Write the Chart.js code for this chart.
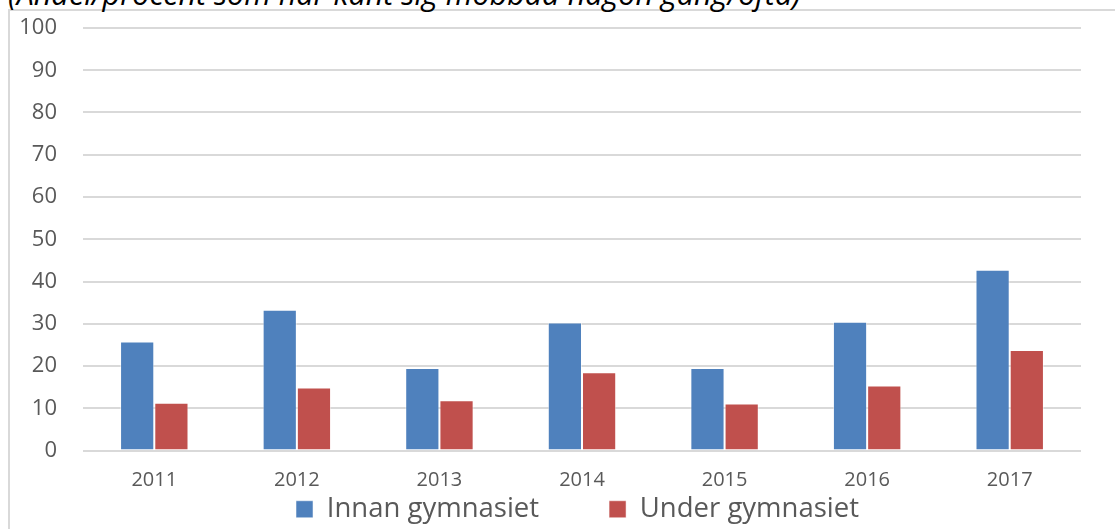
<!DOCTYPE html>
<html>
<head>
<meta charset="utf-8">
<script src="https://cdn.jsdelivr.net/npm/chart.js@4"></script>
<style>
  html, body { margin: 0; padding: 0; background: #fff; overflow: hidden; }
  #wrap { position: relative; width: 1115px; height: 529px; }
  #frame { position: absolute; left: 8px; top: 9px; right: -4px; bottom: -4px;
           border-left: 2px solid #d9d9d9; border-top: 2px solid #d9d9d9; }
  #title { position: absolute; left: 8px; top: -21px; font-family: 'Open Sans', sans-serif;
           font-style: italic; font-size: 30.5px; line-height: 28px; color: #000; white-space: nowrap; }
  canvas { position: absolute; left: 0; top: 0; }
</style>
</head>
<body>
<div id="wrap">
  <div id="frame"></div>
  <div id="title">(Andel/procent som har känt sig mobbad någon gång/ofta)</div>
  <canvas id="chart" width="1115" height="529"></canvas>
</div>
<script>
  // chart data
  const years = ['2011', '2012', '2013', '2014', '2015', '2016', '2017'];
  const innanGymnasiet = [25.8, 33.3, 19.5, 30.3, 19.5, 30.5, 42.8];
  const underGymnasiet = [11.3, 14.9, 11.9, 18.5, 11.1, 15.4, 23.8];

  // legend padding doubles as the gap between items; pull the legend back up
  const legendGap = 70;
  const liftLegend = {
    id: 'liftLegend',
    afterLayout(chart) {
      const lg = chart.legend;
      lg.top -= 66;
      lg.bottom -= 66;
      lg.left += 32;
      lg.right += 32;
    }
  };

  const ctx = document.getElementById('chart').getContext('2d');
  new Chart(ctx, {
    type: 'bar',
    data: {
      labels: years,
      datasets: [
        {
          label: 'Innan gymnasiet',
          data: innanGymnasiet,
          backgroundColor: '#4f81bd',
          borderColor: 'rgba(255,255,255,0.5)',
          borderWidth: 1
        },
        {
          label: 'Under gymnasiet',
          data: underGymnasiet,
          backgroundColor: '#c0504d',
          borderColor: 'rgba(255,255,255,0.5)',
          borderWidth: 1
        }
      ]
    },
    options: {
      responsive: false,
      animation: false,
      layout: { padding: { left: 10, right: 34, top: 28, bottom: -70 } },
      datasets: { bar: { barPercentage: 1, categoryPercentage: 0.48 } },
      plugins: {
        tooltip: { enabled: false },
        legend: {
          position: 'bottom',
          labels: {
            color: '#595959',
            font: { family: 'Open Sans', size: 27.5 },
            boxWidth: 17,
            boxHeight: 17,
            padding: legendGap
          }
        }
      },
      scales: {
        x: {
          grid: { display: false },
          border: { display: false },
          ticks: { color: '#595959', font: { family: 'Open Sans', size: 20 }, padding: 10 },
          afterFit: s => { s.height = 41; }
        },
        y: {
          min: 0,
          max: 100,
          ticks: { stepSize: 10, color: '#595959', font: { family: 'Open Sans', size: 22 }, padding: 26 },
          grid: { color: '#d9d9d9', lineWidth: 2, drawTicks: false },
          border: { display: false },
          afterFit: s => {
            s.width = 73;
            s.paddingTop = 0;
            s.paddingBottom = 0;
          }
        }
      }
    },
    plugins: [liftLegend]
  });
</script>
</body>
</html>
